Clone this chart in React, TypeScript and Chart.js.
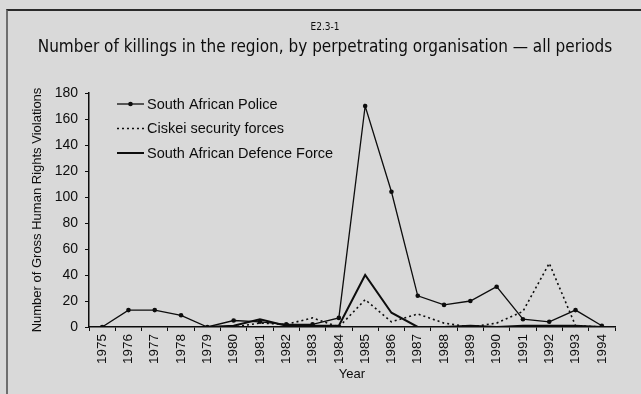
import React, { useEffect, useRef } from "react";
import { Chart, registerables } from "chart.js";

Chart.register(...registerables);

const years = ["1975","1976","1977","1978","1979","1980","1981","1982","1983","1984","1985","1986","1987","1988","1989","1990","1991","1992","1993","1994"];
const policeValues = [0, 13, 13, 9, 0, 5, 4, 2, 2, 7, 170, 104, 24, 17, 20, 31, 6, 4, 13, 1];
const ciskeiValues = [0, 0, 0, 0, 0, 0, 3, 2, 7, 0, 21, 4, 10, 3, 0, 3, 12, 49, 1, 0];
const sadfValues = [0, 0, 0, 0, 0, 1, 6, 1, 1, 1, 40, 11, 0, 0, 1, 0, 1, 1, 1, 0];
const seriesNames = ["South African Police", "Ciskei security forces", "South African Defence Force"];
const yMin = 0;
const yMax = 180;
const yStep = 20;
const chartNumber = "E2.3-1";
const chartTitle = "Number of killings in the region, by perpetrating organisation \u2014 all periods";
const yAxisTitle = "Number of Gross Human Rights Violations";
const xAxisTitle = "Year";

const SANS = '"Liberation Sans", Arial, sans-serif';
const NARROW = '"Liberation Sans Narrow", "DejaVu Sans Condensed", "Liberation Sans", sans-serif';
const INK = "#0d0d0d";

const headingPlugin = {
  id: "headings",
  afterDraw(chart: any) {
    const ctx = chart.ctx;
    ctx.save();
    ctx.fillStyle = INK;
    ctx.textAlign = "center";
    ctx.textBaseline = "middle";
    ctx.font = `10px ${NARROW}`;
    ctx.fillText(chartNumber, 325, 27);
    ctx.font = `17px ${NARROW}`;
    ctx.fillText(chartTitle, 325, 48);
    ctx.restore();
  },
};

const legendPlugin = {
  id: "insideLegend",
  afterDraw(chart: any) {
    const ctx = chart.ctx;
    const area = chart.chartArea;
    const x0 = area.left + 28;
    const y0 = area.top + 11;
    const rowH = 24.5;
    ctx.save();
    chart.data.datasets.forEach((ds: any, i: number) => {
      const y = y0 + i * rowH;
      ctx.strokeStyle = ds.borderColor;
      ctx.lineWidth = ds.borderWidth;
      ctx.setLineDash(ds.borderDash || []);
      ctx.beginPath();
      ctx.moveTo(x0, y);
      ctx.lineTo(x0 + 27, y);
      ctx.stroke();
      ctx.setLineDash([]);
      if (ds.pointRadius > 0) {
        ctx.fillStyle = ds.borderColor;
        ctx.beginPath();
        ctx.arc(x0 + 13.5, y, ds.pointRadius, 0, Math.PI * 2);
        ctx.fill();
      }
      ctx.fillStyle = INK;
      ctx.font = `14.5px ${SANS}`;
      ctx.textAlign = "left";
      ctx.textBaseline = "middle";
      ctx.fillText(ds.label, x0 + 30, y + 0.5);
    });
    ctx.restore();
  },
};

export default function App() {
  const canvasRef = useRef<HTMLCanvasElement | null>(null);

  useEffect(() => {
    const canvas = canvasRef.current;
    if (!canvas) return;
    const chart = new Chart(canvas, {
      type: "line",
      data: {
        labels: years,
        datasets: [
          {
            label: seriesNames[0],
            data: policeValues,
            borderColor: INK,
            backgroundColor: INK,
            borderWidth: 1.3,
            pointRadius: 2.3,
            pointBackgroundColor: INK,
            pointBorderWidth: 0,
            tension: 0,
            fill: false,
          },
          {
            label: seriesNames[1],
            data: ciskeiValues,
            borderColor: INK,
            borderWidth: 1.6,
            borderDash: [2, 3],
            pointRadius: 0,
            tension: 0,
            fill: false,
          },
          {
            label: seriesNames[2],
            data: sadfValues,
            borderColor: INK,
            borderWidth: 2,
            pointRadius: 0,
            tension: 0,
            fill: false,
          },
        ],
      },
      options: {
        animation: false,
        responsive: false,
        maintainAspectRatio: false,
        devicePixelRatio: 1,
        events: [],
        layout: { padding: { top: 93, right: 26, left: 0, bottom: 0 } },
        plugins: {
          legend: { display: false },
          tooltip: { enabled: false },
          title: { display: false },
        },
        scales: {
          x: {
            type: "category",
            offset: true,
            grid: {
              display: true,
              drawOnChartArea: false,
              drawTicks: true,
              tickLength: 4,
              offset: true,
              color: INK,
              lineWidth: 1,
            },
            border: { display: true, color: INK, width: 1.5 },
            ticks: {
              autoSkip: false,
              minRotation: 90,
              maxRotation: 90,
              padding: 3,
              color: INK,
              font: { family: SANS, size: 13.5 },
            },
            title: {
              display: true,
              text: xAxisTitle,
              color: INK,
              font: { family: SANS, size: 13 },
              padding: { top: 0, bottom: 12 },
            },
            afterFit: (s: any) => {
              s.height = 67;
            },
          },
          y: {
            min: yMin,
            max: yMax,
            grid: {
              display: true,
              drawOnChartArea: false,
              drawTicks: true,
              tickLength: 4,
              color: INK,
              lineWidth: 1,
            },
            border: { display: true, color: INK, width: 1.5 },
            ticks: {
              stepSize: yStep,
              padding: 7,
              color: INK,
              font: { family: SANS, size: 14 },
            },
            title: {
              display: true,
              text: yAxisTitle,
              color: INK,
              font: { family: SANS, size: 13 },
              padding: { top: 30, bottom: 0 },
            },
            afterFit: (s: any) => {
              s.width = 89;
            },
          },
        },
      },
      plugins: [headingPlugin, legendPlugin],
    });
    return () => chart.destroy();
  }, []);

  return (
    <div
      style={{
        position: "fixed",
        left: 0,
        top: 0,
        width: 641,
        height: 394,
        background: "#d9d9d9",
        overflow: "hidden",
      }}
    >
      <div
        style={{
          position: "absolute",
          left: 6,
          top: 9,
          width: 635,
          height: 385,
          borderTop: "2px solid #2a2a2a",
          borderLeft: "2px solid #6e6e6e",
          boxSizing: "border-box",
        }}
      />
      <canvas
        ref={canvasRef}
        width={641}
        height={394}
        style={{ position: "absolute", left: 0, top: 0, width: 641, height: 394 }}
      />
    </div>
  );
}
